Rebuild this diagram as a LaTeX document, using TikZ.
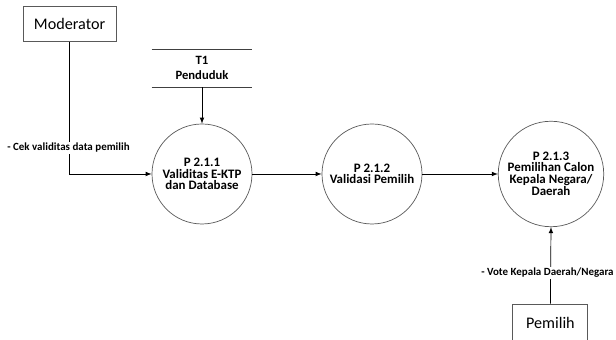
\documentclass[tikz,border=0pt]{standalone}
\usepackage{fontspec}
\setmainfont{Carlito}
\usepackage{tikz}
\usetikzlibrary{positioning}

\tikzset{
	entity/.style={shape=rectangle, draw=black!65, line width=0.6pt, minimum width=2.325cm, minimum height=0.875cm, font=\fontsize{11.5}{13}\selectfont},
	process/.style={shape=circle, draw=black!65, line width=0.5pt, minimum size=2.5cm, inner sep=0pt, align=center, font=\bfseries\fontsize{9.2}{8}\selectfont},
	store/.style={minimum width=2.5cm, minimum height=0.925cm, align=center, font=\bfseries\fontsize{9}{10.6}\selectfont},
	flowlabel/.style={fill=white, inner sep=1pt, font=\bfseries\fontsize{7.8}{9}\selectfont},
	flow/.style={-latex, line width=0.5pt}
}

\begin{document}
\begin{tikzpicture}
	% Entities, processes and flows:
	\useasboundingbox (0, 0) rectangle (15.4, 8.5);
	\node[entity] (moderator) at (1.74, 7.91){Moderator};
	\node[store] (t1) at (5.05, 6.79){T1\\Penduduk};
	\draw[black!75] (t1.north west) -- (t1.north east);
	\draw[black!75] (t1.south west) -- (t1.south east);
	\node[process] (p211) at (5.05, 4.15){P 2.1.1\\Validitas E-KTP\\dan Database};
	\node[process] (p212) at (9.3, 4.15){P 2.1.2\\Validasi Pemilih};
	\node[process] (p213) at (13.775, 4.15){\raisebox{6pt}{\parbox{2.4cm}{\centering P 2.1.3\\Pemilihan Calon\\Kepala Negara/\\Daerah}}};
	\node[entity, minimum width=1.875cm, minimum height=0.95cm] (pemilih) at (13.76, 0.425){Pemilih};
	\draw[flow] (moderator.south) |- (p211.west);
	\node[flowlabel, anchor=west] (cek) at (0.14, 4.8){- Cek validitas data pemilih};
	\draw[flow] (t1.south) -- (p211.north);
	\draw[flow] (p211.east) -- (p212.west);
	\draw[flow] (p212.east) -- (p213.west);
	\draw[flow] (pemilih.north) -- (p213.south);
	\node[flowlabel, anchor=west] (vote) at (11.99, 1.675){- Vote Kepala Daerah/Negara};
\end{tikzpicture}
\end{document}
